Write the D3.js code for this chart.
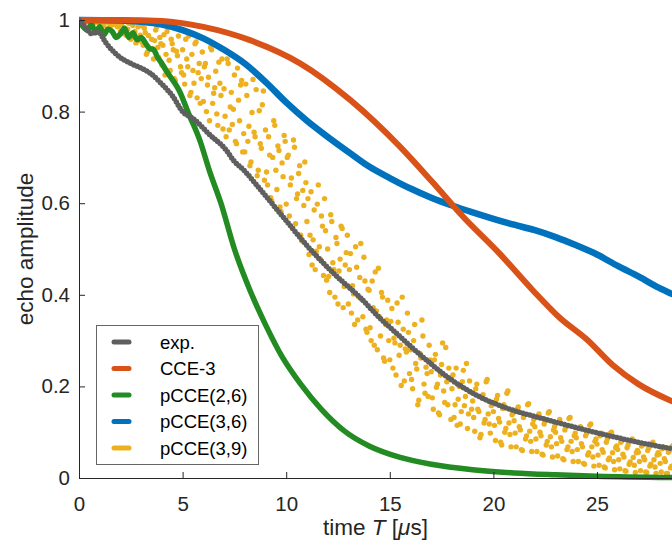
<!DOCTYPE html>
<html>
<head>
<meta charset="utf-8">
<script src="https://cdn.jsdelivr.net/npm/d3@7"></script>
<style>
  html, body { margin: 0; padding: 0; background: #fff; }
  svg { display: block; font-family: "Liberation Sans", Arial, Helvetica, sans-serif; }
</style>
</head>
<body>
<svg id="chart" width="672" height="548"></svg>
<script>
// ---------------- DATA ----------------
const seriesNames = ["exp.", "CCE-3", "pCCE(2,6)", "pCCE(3,6)", "pCCE(3,9)"];
const seriesColors = ["#5f5f5f", "#D95319", "#228B22", "#0072BD", "#EDB120"];

const xTicks = [0, 5, 10, 15, 20, 25];
const yTicks = [0, 0.2, 0.4, 0.6, 0.8, 1];
const yTickLabels = ["0", "0.2", "0.4", "0.6", "0.8", "1"];

// exp.
const expT = [0, 0.3, 0.6, 0.9, 1.3, 1.8, 2.5, 3.0, 3.4, 4.0, 4.5, 5.0, 5.5, 6.3, 7.1, 7.45, 8.0, 8.75, 9.85, 11.15, 12.45, 13.55, 14.5, 15.15, 16.6, 17.8, 19.35, 20.5, 22.6, 24.0, 25.8, 27.0, 28.6];
const expA = [1.0, 0.985, 0.97, 0.975, 0.95, 0.925, 0.905, 0.895, 0.885, 0.86, 0.835, 0.80, 0.785, 0.75, 0.716, 0.694, 0.67, 0.63, 0.57, 0.50, 0.44, 0.395, 0.35, 0.323, 0.264, 0.22, 0.177, 0.155, 0.127, 0.11, 0.09, 0.078, 0.064];

// CCE-3
const cceT = [0, 2, 4, 6, 8.25, 10.65, 13.1, 15.5, 17.1, 18.55, 20.3, 21.9, 23.2, 24.5, 25.8, 27.0, 28.6];
const cceA = [1.0, 1.0, 0.998, 0.985, 0.956, 0.906, 0.825, 0.723, 0.644, 0.57, 0.49, 0.41, 0.35, 0.303, 0.245, 0.205, 0.168];

// pCCE(2,6)
const p26T = [0, 0.2, 0.4, 0.6, 0.8, 1.0, 1.2, 1.4, 1.6, 1.8, 2.0, 2.2, 2.4, 2.6, 2.8, 3.0, 3.2, 3.4, 3.6, 3.8, 4.0, 4.2, 4.9, 5.25, 5.85, 6.3, 6.85, 7.5, 8.25, 9.0, 9.8, 10.7, 11.7, 12.8, 14.0, 15.5, 17.0, 19.0, 21.0, 23.0, 25.0, 28.6];
const p26A = [1.0, 0.985, 0.978, 0.99, 0.972, 0.985, 0.968, 0.98, 0.975, 0.962, 0.97, 0.982, 0.962, 0.972, 0.957, 0.962, 0.95, 0.938, 0.935, 0.918, 0.905, 0.89, 0.84, 0.80, 0.735, 0.67, 0.60, 0.50, 0.41, 0.335, 0.265, 0.205, 0.15, 0.103, 0.07, 0.045, 0.03, 0.018, 0.011, 0.007, 0.004, 0.001];

// pCCE(3,6)
const p36T = [0, 2, 3, 4, 5, 6, 7, 8, 9, 10, 11, 12, 13, 14, 15, 16, 17, 18, 19, 20, 21, 22, 23, 24, 25, 26, 27, 28, 28.6];
const p36A = [1.0, 0.999, 0.996, 0.99, 0.978, 0.96, 0.935, 0.905, 0.865, 0.82, 0.78, 0.745, 0.712, 0.68, 0.655, 0.632, 0.612, 0.595, 0.58, 0.566, 0.553, 0.541, 0.526, 0.508, 0.488, 0.463, 0.44, 0.415, 0.402];

// pCCE(3,9): two interleaved sample sets, each one value every 0.1 us
const p39Step = 0.1;
const p39OffsetA = 0, p39OffsetB = 0.05;
const p39A = [
  1.000, 0.997, 0.999, 1.000, 0.996, 0.999, 0.998, 1.000, 0.995, 0.999,
  0.992, 1.000, 0.987, 0.998, 0.995, 0.984, 0.999, 0.990, 0.996, 0.986,
  0.975, 0.996, 0.982, 0.966, 0.993, 0.958, 0.988, 0.975, 0.999, 0.955,
  0.988, 0.945, 0.972, 0.930, 0.996, 0.958, 0.915, 0.978, 0.940, 0.962,
  0.902, 0.968, 0.925, 0.985, 0.890, 0.948, 0.872, 0.932, 0.965, 0.898,
  0.935, 0.860, 0.915, 0.965, 0.842, 0.890, 0.948, 0.830, 0.905, 0.872,
  0.822, 0.905, 0.858, 0.780, 0.935, 0.840, 0.888, 0.770, 0.862, 0.915,
  0.850, 0.745, 0.905, 0.810, 0.772, 0.880, 0.730, 0.825, 0.858, 0.712,
  0.712, 0.835, 0.768, 0.690, 0.870, 0.745, 0.660, 0.802, 0.720, 0.845,
  0.760, 0.640, 0.705, 0.605, 0.780, 0.672, 0.725, 0.592, 0.688, 0.748,
  0.598, 0.705, 0.640, 0.545, 0.722, 0.610, 0.665, 0.530, 0.628, 0.690,
  0.560, 0.488, 0.625, 0.520, 0.455, 0.598, 0.505, 0.572, 0.442, 0.540,
  0.500, 0.405, 0.560, 0.455, 0.525, 0.380, 0.478, 0.545, 0.418, 0.492,
  0.380, 0.490, 0.420, 0.335, 0.460, 0.395, 0.512, 0.352, 0.430, 0.318,
  0.410, 0.300, 0.372, 0.450, 0.280, 0.352, 0.405, 0.262, 0.335, 0.388,
  0.258, 0.370, 0.305, 0.225, 0.340, 0.290, 0.395, 0.212, 0.275, 0.318,
  0.280, 0.195, 0.335, 0.238, 0.170, 0.262, 0.310, 0.185, 0.228, 0.290,
  0.232, 0.150, 0.270, 0.205, 0.138, 0.248, 0.190, 0.285, 0.160, 0.215,
  0.195, 0.132, 0.240, 0.172, 0.118, 0.210, 0.158, 0.250, 0.140, 0.188,
  0.168, 0.102, 0.205, 0.145, 0.095, 0.182, 0.128, 0.215, 0.118, 0.158,
  0.145, 0.082, 0.180, 0.122, 0.072, 0.160, 0.108, 0.190, 0.095, 0.138,
  0.125, 0.068, 0.155, 0.105, 0.060, 0.138, 0.092, 0.162, 0.080, 0.118,
  0.112, 0.058, 0.140, 0.092, 0.050, 0.125, 0.080, 0.145, 0.068, 0.105,
  0.100, 0.048, 0.128, 0.080, 0.040, 0.112, 0.068, 0.132, 0.058, 0.092,
  0.088, 0.036, 0.112, 0.068, 0.030, 0.098, 0.055, 0.118, 0.046, 0.080,
  0.074, 0.028, 0.098, 0.056, 0.022, 0.085, 0.044, 0.100, 0.036, 0.066,
  0.062, 0.020, 0.082, 0.046, 0.015, 0.072, 0.035, 0.085, 0.028, 0.055,
  0.056, 0.016, 0.074, 0.040, 0.012, 0.066, 0.030, 0.078, 0.024, 0.050,
  0.052, 0.013, 0.068, 0.036, 0.010, 0.060, 0.026, 0.072, 0.020, 0.046
];
const p39B = [
  0.999, 1.000, 0.996, 0.998, 1.000, 0.997, 1.000, 0.994, 0.999, 0.997,
  0.998, 0.989, 0.996, 1.000, 0.983, 0.994, 0.991, 0.999, 0.985, 0.993,
  0.990, 0.970, 0.998, 0.980, 0.962, 0.992, 0.972, 0.950, 0.985, 0.967,
  0.952, 0.982, 0.925, 0.966, 0.994, 0.938, 0.955, 0.985, 0.918, 0.948,
  0.945, 0.880, 0.975, 0.912, 0.958, 0.935, 0.868, 0.922, 0.980, 0.885,
  0.880, 0.958, 0.898, 0.835, 0.925, 0.862, 0.952, 0.885, 0.818, 0.930,
  0.898, 0.800, 0.875, 0.940, 0.818, 0.852, 0.795, 0.908, 0.835, 0.762,
  0.790, 0.915, 0.760, 0.842, 0.805, 0.735, 0.895, 0.780, 0.868, 0.752,
  0.860, 0.735, 0.682, 0.798, 0.755, 0.848, 0.672, 0.730, 0.815, 0.650,
  0.668, 0.745, 0.612, 0.700, 0.770, 0.630, 0.715, 0.582, 0.658, 0.735,
  0.700, 0.572, 0.655, 0.738, 0.555, 0.620, 0.682, 0.518, 0.595, 0.645,
  0.610, 0.530, 0.465, 0.585, 0.495, 0.640, 0.478, 0.550, 0.610, 0.432,
  0.440, 0.575, 0.470, 0.395, 0.512, 0.452, 0.550, 0.372, 0.465, 0.530,
  0.455, 0.360, 0.402, 0.505, 0.345, 0.438, 0.390, 0.482, 0.325, 0.412,
  0.328, 0.430, 0.290, 0.365, 0.458, 0.310, 0.395, 0.255, 0.345, 0.300,
  0.342, 0.240, 0.295, 0.382, 0.268, 0.202, 0.325, 0.282, 0.360, 0.228,
  0.215, 0.300, 0.250, 0.160, 0.272, 0.345, 0.205, 0.242, 0.178, 0.258,
  0.175, 0.258, 0.198, 0.142, 0.225, 0.295, 0.165, 0.210, 0.240, 0.128,
  0.225, 0.160, 0.115, 0.200, 0.145, 0.235, 0.178, 0.108, 0.212, 0.150,
  0.132, 0.195, 0.150, 0.088, 0.175, 0.120, 0.210, 0.140, 0.098, 0.165,
  0.115, 0.172, 0.130, 0.078, 0.152, 0.100, 0.185, 0.120, 0.068, 0.142,
  0.098, 0.150, 0.112, 0.062, 0.132, 0.085, 0.160, 0.102, 0.058, 0.128,
  0.085, 0.135, 0.100, 0.052, 0.118, 0.072, 0.142, 0.090, 0.046, 0.112,
  0.075, 0.122, 0.088, 0.042, 0.105, 0.062, 0.130, 0.080, 0.036, 0.098,
  0.062, 0.108, 0.075, 0.032, 0.092, 0.050, 0.115, 0.068, 0.026, 0.085,
  0.050, 0.092, 0.062, 0.024, 0.078, 0.040, 0.098, 0.055, 0.018, 0.070,
  0.040, 0.078, 0.052, 0.016, 0.066, 0.030, 0.082, 0.045, 0.012, 0.060,
  0.036, 0.070, 0.046, 0.013, 0.060, 0.026, 0.075, 0.040, 0.010, 0.055,
  0.032, 0.064, 0.042, 0.010, 0.056, 0.022, 0.070, 0.036, 0.008, 0.050
];

// ---------------- CHART ----------------
const svg = d3.select("#chart");
const mLeft = 79, mRight = 672, mTop = 20, mBottom = 478;

const x = d3.scaleLinear().domain([0, 28.62]).range([mLeft, mRight]);
const y = d3.scaleLinear().domain([0, 1]).range([mBottom, mTop]);

svg.append("defs").append("clipPath").attr("id", "clip")
  .append("rect").attr("x", mLeft).attr("y", 0).attr("width", mRight - mLeft).attr("height", mBottom + 6);

const plot = svg.append("g").attr("clip-path", "url(#clip)");

// pCCE(3,9) scatter
const p39Pts = p39A.map((a, i) => ({ t: p39OffsetA + i * p39Step, a }))
  .concat(p39B.map((a, i) => ({ t: p39OffsetB + i * p39Step, a })));
plot.append("g").selectAll("circle")
  .data(p39Pts)
  .join("circle")
  .attr("cx", d => x(d.t))
  .attr("cy", d => y(d.a))
  .attr("r", 2.7)
  .attr("fill", seriesColors[4]);

function linePath(T, A) {
  return d3.line().x((d, i) => x(T[i])).y((d, i) => y(A[i])).curve(d3.curveMonotoneX)(A);
}

// pCCE(2,6)
plot.append("path").attr("d", linePath(p26T, p26A))
  .attr("fill", "none").attr("stroke", seriesColors[2]).attr("stroke-width", 5.5)
  .attr("stroke-linecap", "round").attr("stroke-linejoin", "round");
// pCCE(3,6)
plot.append("path").attr("d", linePath(p36T, p36A))
  .attr("fill", "none").attr("stroke", seriesColors[3]).attr("stroke-width", 6.5)
  .attr("stroke-linecap", "round").attr("stroke-linejoin", "round");
// CCE-3
plot.append("path").attr("d", linePath(cceT, cceA))
  .attr("fill", "none").attr("stroke", seriesColors[1]).attr("stroke-width", 6)
  .attr("stroke-linecap", "round").attr("stroke-linejoin", "round");
// exp. (dotted)
plot.append("path").attr("d", linePath(expT, expA))
  .attr("fill", "none").attr("stroke", seriesColors[0]).attr("stroke-width", 5.5)
  .attr("stroke-linecap", "round").attr("stroke-dasharray", "0 3.6");

// Axes
const axisColor = "#262626";
const xAxis = d3.axisBottom(x).tickValues(xTicks).tickSize(-6).tickPadding(18).tickFormat(d3.format("d"));
const gx = svg.append("g").attr("transform", `translate(0,${mBottom})`).call(xAxis);
const yAxis = d3.axisLeft(y).tickValues(yTicks).tickSize(-6).tickPadding(9).tickFormat((d, i) => yTickLabels[i]);
const gy = svg.append("g").attr("transform", `translate(${mLeft},0)`).call(yAxis);
[gx, gy].forEach(g => {
  g.select(".domain").remove();
  g.selectAll(".tick line").attr("stroke", axisColor);
  g.selectAll(".tick text").attr("fill", axisColor).style("font-size", "20.5px")
    .style("font-family", '"Liberation Sans", Arial, Helvetica, sans-serif');
});
svg.append("line").attr("x1", mLeft + 0.5).attr("x2", mLeft + 0.5).attr("y1", mTop).attr("y2", mBottom + 0.5)
  .attr("stroke", axisColor).attr("stroke-width", 1);
svg.append("line").attr("x1", mLeft).attr("x2", mRight).attr("y1", mBottom + 0.5).attr("y2", mBottom + 0.5)
  .attr("stroke", axisColor).attr("stroke-width", 1);

// Axis labels
const xl = svg.append("text").attr("x", (mLeft + mRight) / 2).attr("y", 535)
  .attr("text-anchor", "middle").attr("fill", axisColor).style("font-size", "22.5px");
xl.append("tspan").text("time ");
xl.append("tspan").attr("font-style", "italic").text("T");
xl.append("tspan").text(" [");
xl.append("tspan").attr("font-style", "italic").text("μ");
xl.append("tspan").text("s]");

svg.append("text").attr("transform", `translate(33,${(mTop + mBottom) / 2}) rotate(-90)`)
  .attr("text-anchor", "middle").attr("fill", axisColor).style("font-size", "22.5px")
  .text("echo amplitude");

// Legend
const lg = svg.append("g");
lg.append("rect").attr("x", 96.5).attr("y", 325.5).attr("width", 162).attr("height", 139)
  .attr("fill", "#fff").attr("stroke", "#666").attr("stroke-width", 1);
seriesNames.forEach((name, i) => {
  const cy = 342 + i * 26.5;
  lg.append("line").attr("x1", 114).attr("x2", 129).attr("y1", cy).attr("y2", cy)
    .attr("stroke", seriesColors[i]).attr("stroke-width", 5).attr("stroke-linecap", "round");
  lg.append("text").attr("x", 160).attr("y", cy).attr("dy", "0.36em")
    .attr("fill", "#000").style("font-size", "18.5px").text(name);
});
</script>
</body>
</html>
